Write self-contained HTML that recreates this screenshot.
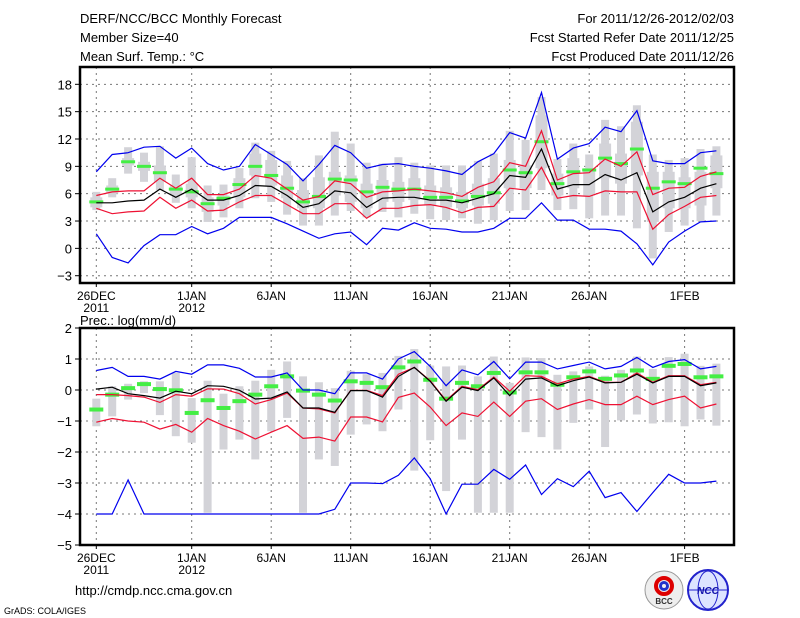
<!DOCTYPE html>
<html><head><meta charset="utf-8"><style>
html,body{margin:0;padding:0;background:#fff;}
svg{display:block;font-family:"Liberation Sans",sans-serif;}
</style></head><body>
<svg id="chart" width="800" height="618" viewBox="0 0 800 618">
<g font-size="13" fill="#000">
<text x="80" y="23">DERF/NCC/BCC Monthly Forecast</text>
<text x="80" y="42">Member Size=40</text>
<text x="80" y="61">Mean Surf. Temp.: °C</text>
<text x="734" y="23" text-anchor="end">For 2011/12/26-2012/02/03</text>
<text x="734" y="42" text-anchor="end">Fcst Started Refer Date 2011/12/25</text>
<text x="734" y="61" text-anchor="end">Fcst Produced Date 2011/12/26</text>
</g>
<text x="80" y="325" font-size="13">Prec.: log(mm/d)</text>
<text x="75" y="595" font-size="13">http://cmdp.ncc.cma.gov.cn</text>
<text x="4" y="614" font-size="9">GrADS: COLA/IGES</text>
<g>
<circle cx="664" cy="590" r="19" fill="#eee" stroke="#999"/>
<circle cx="664" cy="586" r="8" fill="none" stroke="#d00" stroke-width="4"/>
<circle cx="664" cy="586" r="3.5" fill="none" stroke="#23c" stroke-width="3"/>
<text x="664" y="604" font-size="8" text-anchor="middle" font-weight="bold" fill="#333">BCC</text>
</g>
<g>
<circle cx="708" cy="590" r="20" fill="#dde4ff" stroke="#22c" stroke-width="2"/>
<ellipse cx="708" cy="590" rx="10" ry="19" fill="none" stroke="#22c"/>
<line x1="689" y1="590" x2="727" y2="590" stroke="#22c"/>
<text x="708" y="594" font-size="10" text-anchor="middle" font-style="italic" font-weight="bold" fill="#11a">NCC</text>
</g>
<g id="p1"></g>
<g id="p2"></g>
</svg>
<script>
// ---- shared x categories (days from 26DEC) ----
const days = [0,1,2,3,4,5,6,7,8,9,10,11,12,13,14,15,16,17,18,19,20,21,22,23,24,25,26,27,28,29,30,31,32,33,34,35,36,37,38,39];
const xTickDays = [0,6,11,16,21,26,31,37];
const xTickLabels = ["26DEC","1JAN","6JAN","11JAN","16JAN","21JAN","26JAN","1FEB"];
const xTickYears = ["2011","2012","","","","","",""];

// ---- temperature panel ----
const tYTicks = [18,15,12,9,6,3,0,-3];
const tMaxBlue = [8.4,10.3,10.5,11.1,11.2,9.9,11.0,9.3,8.6,9.0,11.4,10.3,9.2,7.4,9.2,11.3,10.5,8.8,9.2,9.3,9.0,8.8,8.5,8.1,9.5,10.4,12.7,12.1,17.1,9.8,11.0,11.5,13.3,12.8,15.1,9.6,9.3,9.3,10.5,10.7];
const tUpRed = [5.8,6.2,6.3,6.3,7.7,6.6,7.7,5.9,5.9,6.5,8.0,7.7,6.5,5.3,5.7,7.4,7.1,5.6,6.2,6.3,6.5,6.3,6.1,5.7,6.7,7.3,9.4,9.0,12.9,7.5,8.2,8.3,9.8,9.0,10.6,5.9,6.6,6.7,7.9,8.4];
const tMean = [5.0,5.0,5.2,5.3,6.5,5.6,6.5,5.3,5.3,5.8,6.9,6.8,5.8,4.5,4.9,6.3,6.1,4.5,5.5,5.6,5.6,5.3,5.3,5.0,5.5,6.0,8.0,7.8,10.9,6.5,7.0,7.0,8.1,7.5,8.3,4.0,5.1,5.6,6.6,7.1];
const tLoRed = [4.4,3.8,4.0,4.1,5.6,4.4,5.3,4.1,4.2,5.1,5.8,5.8,4.8,3.8,3.8,4.9,4.9,3.3,4.4,4.4,4.7,4.8,4.5,3.9,4.5,4.6,6.6,6.4,8.9,5.5,5.8,5.7,6.3,6.2,6.2,2.1,3.7,4.6,5.6,5.8];
const tMinBlue = [1.6,-1.0,-1.6,0.3,1.5,1.5,2.4,1.6,2.2,3.4,3.4,3.4,2.7,1.9,1.1,1.6,1.8,0.4,2.2,2.0,2.8,2.2,2.1,1.8,1.8,2.2,3.3,3.3,5.0,3.1,3.1,2.1,2.1,1.9,0.5,-1.8,0.7,1.9,2.9,3.0];
const tObs = [5.1,6.5,9.5,9.0,8.3,6.5,6.2,4.9,5.5,7.0,9.0,8.0,6.6,5.1,5.7,7.6,7.5,6.2,6.7,6.5,6.5,5.6,5.6,5.2,5.7,6.1,8.6,8.3,11.7,7.1,8.4,8.6,9.9,9.3,10.9,6.6,7.3,7.1,8.8,8.2];
const tBarMax = [6.2,7.7,11.1,10.5,11.2,8.1,10.0,6.9,7.0,8.8,11.6,10.7,9.6,7.7,10.2,12.8,11.5,9.4,9.3,10.0,9.4,9.1,9.1,9.1,9.6,10.4,12.9,11.9,16.6,9.8,11.5,10.3,14.1,13.4,15.7,10.3,9.7,9.9,10.9,11.2];
const tBarMin = [4.2,5.6,8.2,7.3,6.4,5.0,4.4,2.9,3.4,4.4,5.5,5.1,3.7,2.5,2.5,3.6,4.1,3.4,4.0,3.4,3.8,3.2,3.1,3.3,2.7,3.1,4.1,4.2,6.4,4.2,4.3,3.3,3.6,3.6,2.2,-1.1,1.8,2.5,3.0,3.6];
const tBoxHi = [5.6,6.9,9.9,9.5,9.1,6.9,7.1,5.6,5.8,7.7,10.4,9.7,8.0,6.4,7.8,8.4,8.0,7.1,7.5,7.3,7.7,6.9,6.7,6.2,7.1,7.7,9.7,9.1,14.6,8.2,9.9,8.8,11.5,10.4,13.9,8.4,8.4,7.8,8.4,10.2];
const tBoxLo = [4.5,6.0,9.1,8.5,7.3,5.8,5.6,4.0,4.7,5.6,8.0,6.9,5.5,4.4,4.4,5.8,5.1,4.4,5.1,5.1,5.3,4.7,4.5,4.4,4.7,4.9,6.6,6.6,8.8,5.8,6.6,5.8,7.7,7.1,8.0,2.9,4.4,4.4,4.7,6.6];

// ---- precipitation panel ----
const pYTicks = [2,1,0,-1,-2,-3,-4,-5];
const pMaxBlue = [0.63,0.73,0.44,0.44,0.35,0.6,0.51,0.81,0.81,0.7,0.42,0.42,0.55,0,0,-0.12,0.55,0.55,0.35,1.0,1.24,0.76,0.14,0.65,0.49,0.92,0.36,0.9,0.9,0.68,0.79,0.9,0.68,0.76,1.05,0.73,0.92,0.98,0.68,0.76];
const pUpRed = [-0.15,-0.15,-0.18,-0.23,-0.4,-0.15,-0.2,0.04,0.03,-0.12,-0.45,-0.31,-0.1,-0.58,-0.61,-0.74,-0.01,-0.01,-0.18,0.51,0.73,0.3,-0.34,0.12,0.01,0.42,-0.04,0.46,0.44,0.2,0.35,0.44,0.25,0.25,0.55,0.25,0.46,0.46,0.17,0.25];
const pMean = [0.03,0.09,-0.12,-0.18,-0.26,-0.04,-0.12,0.14,0.12,-0.01,-0.29,-0.26,-0.06,-0.58,-0.58,-0.72,-0.02,-0.02,-0.23,0.44,0.73,0.28,-0.36,0.09,-0.02,0.39,-0.18,0.35,0.39,0.14,0.3,0.42,0.23,0.25,0.51,0.23,0.44,0.44,0.14,0.23];
const pLoRed = [-1.04,-0.92,-1.0,-1.04,-1.26,-1.11,-1.36,-0.92,-1.15,-1.33,-1.58,-1.36,-1.15,-1.56,-1.52,-1.65,-0.87,-0.87,-1.03,-0.24,-0.1,-0.55,-1.15,-0.74,-0.85,-0.39,-0.85,-0.36,-0.28,-0.63,-0.45,-0.31,-0.47,-0.47,-0.2,-0.47,-0.31,-0.2,-0.58,-0.45];
const pMinBlue = [-4,-4,-2.9,-4,-4,-4,-4,-4,-4,-4,-4,-4,-4,-4,-4,-3.85,-3.0,-3.0,-3.02,-2.75,-2.19,-2.86,-4,-3.04,-3.04,-2.56,-2.88,-2.42,-3.37,-2.86,-3.12,-2.62,-3.47,-3.31,-3.92,-3.31,-2.72,-3.0,-3.0,-2.94];
const pObs = [-0.63,-0.15,0.06,0.19,0.03,-0.01,-0.74,-0.33,-0.58,-0.36,-0.15,0.12,0.44,-0.02,-0.15,-0.34,0.28,0.23,0.09,0.73,0.92,0.33,-0.28,0.23,0.12,0.55,-0.08,0.57,0.57,0.17,0.41,0.6,0.36,0.47,0.63,0.36,0.78,0.84,0.41,0.44];
const pBarMax = [-0.28,0.12,0.2,0.28,0.28,0.55,-0.26,0.3,-0.12,0.12,0.3,0.65,0.92,0.44,0.25,0.06,0.62,0.51,0.55,1.1,1.32,0.79,0.76,0.79,0.44,1.08,0.23,1.05,1.03,0.49,0.6,0.76,0.46,0.65,1.08,0.68,1.06,1.17,0.78,0.85];
const pBarMin = [-1.17,-0.85,-0.31,-0.1,-0.81,-1.49,-1.7,-3.96,-1.92,-1.6,-2.24,-1.33,-0.9,-3.96,-2.24,-2.45,-1.44,-1.11,-1.33,-0.63,-2.6,-1.62,-3.26,-1.6,-3.96,-3.96,-3.96,-1.36,-1.52,-1.92,-1.06,-0.63,-1.84,-0.98,-0.79,-1.08,-1.04,-1.17,-0.95,-1.15];

const NS = "http://www.w3.org/2000/svg";
const X0 = 80, X1 = 734;
function xPos(d){ return 96.3 + d*15.9; }
function mk(parent, tag, attrs){
  const e = document.createElementNS(NS, tag);
  for (const k in attrs) e.setAttribute(k, attrs[k]);
  parent.appendChild(e); return e;
}

function drawPanel(g, cfg){
  const yPos = v => cfg.top + (cfg.yMax - v) * (cfg.bottom - cfg.top) / (cfg.yMax - cfg.yMin);
  const grid = mk(g, "g", {});
  
  
  cfg.yTicks.forEach(v => {
    const y = yPos(v);
    if (y > cfg.top + 1 && y < cfg.bottom - 1) mk(grid, "line", {x1:X0, x2:X1, y1:y, y2:y, stroke:"#777", "stroke-dasharray":"2,4", "stroke-width":1});
    mk(grid, "line", {x1:X0-5, x2:X0, y1:y, y2:y, stroke:"#000"});
    const t = mk(grid, "text", {x:X0-8, y:y+5, "text-anchor":"end", "font-size":13});
    t.textContent = v < 0 ? "\u2212" + (-v) : String(v);
    
    
  });
  xTickDays.forEach((d, i) => {
    const x = xPos(d);
    mk(grid, "line", {x1:x, x2:x, y1:cfg.top, y2:cfg.bottom, stroke:"#777", "stroke-dasharray":"2,4", "stroke-width":1});
    mk(grid, "line", {x1:x, x2:x, y1:cfg.bottom, y2:cfg.bottom+4, stroke:"#000"});
    const t = mk(grid, "text", {x:x, y:cfg.bottom+17, "text-anchor":"middle", "font-size":12});
    t.textContent = xTickLabels[i];
    
    
    if (xTickYears[i]) {
      const t2 = mk(grid, "text", {x:x, y:cfg.bottom+29, "text-anchor":"middle", "font-size":12});
      t2.textContent = xTickYears[i];
      
      
    }
  });
  const bars = mk(g, "g", {fill:"#d3d3d8"});
  
  
  days.forEach((d, i) => {
    const x = xPos(d);
    const r = mk(bars, "rect", {x:x-4, y:yPos(cfg.bMax[i]), width:8, height:yPos(cfg.bMin[i])-yPos(cfg.bMax[i])});
    
    
    if (cfg.boxHi) {
      const b = mk(bars, "rect", {x:x-6, y:yPos(cfg.boxHi[i]), width:12, height:yPos(cfg.boxLo[i])-yPos(cfg.boxHi[i])});
      
      
    }
  });
  const obs = mk(g, "g", {fill:"#44ee44"});
  
  
  days.forEach((d, i) => {
    const m = mk(obs, "rect", {x:xPos(d)-7, y:yPos(cfg.obs[i])-cfg.gh/2, width:14, height:cfg.gh});
    
    
  });
  const series = [
    [cfg.minBlue, "#0000ee", "min-line"],
    [cfg.maxBlue, "#0000ee", "max-line"],
    [cfg.loRed, "#ee1133", "lower-red-line"],
    [cfg.upRed, "#ee1133", "upper-red-line"],
    [cfg.mean, "#000", "ensemble-mean-line"]
  ];
  series.forEach(s => {
    const pts = days.map((d, i) => xPos(d).toFixed(1) + "," + yPos(s[0][i]).toFixed(1)).join(" ");
    const p = mk(g, "polyline", {points:pts, fill:"none", stroke:s[1], "stroke-width":1.2});
    
    
  });
  const f = mk(g, "rect", {x:X0, y:cfg.top, width:X1-X0, height:cfg.bottom-cfg.top, fill:"none", stroke:"#000", "stroke-width":2.5});
  
  
}

const g1 = document.getElementById("p1");


drawPanel(g1, {name:"temp", top:67, bottom:283, yMax:19.9, yMin:-3.8, yTicks:tYTicks,
  bMax:tBarMax, bMin:tBarMin, boxHi:tBoxHi, boxLo:tBoxLo, obs:tObs, gh:3,
  maxBlue:tMaxBlue, upRed:tUpRed, mean:tMean, loRed:tLoRed, minBlue:tMinBlue});

const g2 = document.getElementById("p2");


drawPanel(g2, {name:"precip", top:328, bottom:545, yMax:2, yMin:-5, yTicks:pYTicks,
  bMax:pBarMax, bMin:pBarMin, boxHi:null, boxLo:null, obs:pObs, gh:4,
  maxBlue:pMaxBlue, upRed:pUpRed, mean:pMean, loRed:pLoRed, minBlue:pMinBlue});
</script>
</body></html>
